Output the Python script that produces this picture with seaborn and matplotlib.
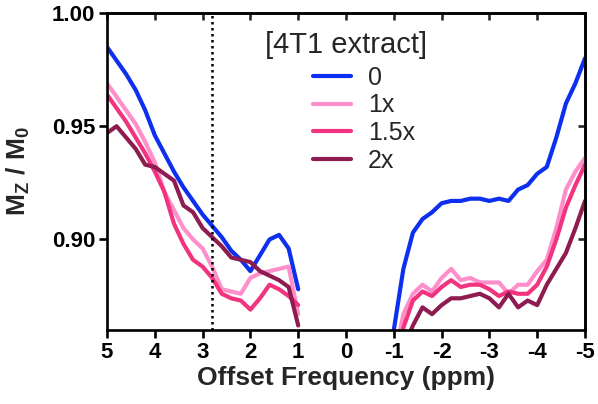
import matplotlib
matplotlib.use('Agg')
import matplotlib.pyplot as plt
import seaborn as sns
import pandas as pd

sns.set_style('ticks')
plt.rcParams['font.family'] = ['Liberation Sans', 'DejaVu Sans']
plt.rcParams['mathtext.fontset'] = 'custom'
plt.rcParams['mathtext.bf'] = 'Liberation Sans:bold'
plt.rcParams['mathtext.rm'] = 'Liberation Sans:bold'
plt.rcParams['mathtext.default'] = 'bf'

# offset frequencies (ppm), downfield and upfield of water
ppm_pos = [5.0, 4.8, 4.6, 4.4, 4.2, 4.0, 3.8, 3.6, 3.4, 3.2, 3.0,
           2.8, 2.6, 2.4, 2.2, 2.0, 1.8, 1.6, 1.4, 1.2, 1.0]
ppm_neg = [-1.0, -1.2, -1.4, -1.6, -1.8, -2.0, -2.2, -2.4, -2.6, -2.8, -3.0,
           -3.2, -3.4, -3.6, -3.8, -4.0, -4.2, -4.4, -4.6, -4.8, -5.0]

# Mz/M0 for each [4T1 extract] level
mz_0_pos = [0.985, 0.979, 0.973, 0.966, 0.957, 0.946, 0.938, 0.930, 0.923, 0.917, 0.911,
            0.906, 0.901, 0.895, 0.891, 0.886, 0.893, 0.900, 0.902, 0.896, 0.878]
mz_0_neg = [0.860, 0.887, 0.903, 0.909, 0.912, 0.916, 0.917, 0.917, 0.918, 0.918, 0.917,
            0.918, 0.917, 0.922, 0.924, 0.929, 0.932, 0.945, 0.960, 0.969, 0.980]

mz_1x_pos = [0.969, 0.963, 0.957, 0.951, 0.943, 0.934, 0.921, 0.913, 0.905, 0.900, 0.896,
             0.888, 0.878, 0.877, 0.876, 0.883, 0.885, 0.886, 0.887, 0.888, 0.867]
mz_1x_neg = [0.846, 0.867, 0.876, 0.880, 0.877, 0.883, 0.887, 0.882, 0.883, 0.881, 0.881,
             0.881, 0.876, 0.880, 0.880, 0.886, 0.891, 0.905, 0.922, 0.930, 0.936]

mz_15x_pos = [0.964, 0.958, 0.952, 0.945, 0.938, 0.930, 0.921, 0.907, 0.898, 0.891, 0.888,
              0.883, 0.876, 0.874, 0.873, 0.869, 0.874, 0.880, 0.878, 0.875, 0.871]
mz_15x_neg = [0.838, 0.861, 0.873, 0.877, 0.875, 0.879, 0.882, 0.879, 0.880, 0.880, 0.878,
              0.875, 0.877, 0.876, 0.876, 0.880, 0.888, 0.900, 0.914, 0.924, 0.933]

mz_2x_pos = [0.947, 0.950, 0.945, 0.940, 0.933, 0.932, 0.929, 0.926, 0.915, 0.912, 0.905,
             0.901, 0.897, 0.892, 0.891, 0.890, 0.886, 0.884, 0.882, 0.879, 0.862]
mz_2x_neg = [0.830, 0.852, 0.862, 0.870, 0.867, 0.871, 0.874, 0.874, 0.875, 0.876, 0.874,
             0.870, 0.876, 0.870, 0.873, 0.871, 0.880, 0.887, 0.894, 0.905, 0.917]

levels = ['0', '1x', '1.5x', '2x']
colors = ['#0d2ff0', '#ff8fcb', '#f2337f', '#8e1c50']
series = {
    '0': (mz_0_pos, mz_0_neg),
    '1x': (mz_1x_pos, mz_1x_neg),
    '1.5x': (mz_15x_pos, mz_15x_neg),
    '2x': (mz_2x_pos, mz_2x_neg),
}

xticks = [5, 4, 3, 2, 1, 0, -1, -2, -3, -4, -5]
xtick_labels = ['5', '4', '3', '2', '1', '0', '-1', '-2', '-3', '-4', '-5']
yticks = [0.90, 0.95, 1.00]
ytick_labels = ['0.90', '0.95', '1.00']

# long-form table, one unit per side so the gap around water stays open
frames = []
for lvl in levels:
    pos, neg = series[lvl]
    frames.append(pd.DataFrame({'ppm': ppm_pos, 'mz': pos, 'extract': lvl, 'side': 'pos'}))
    frames.append(pd.DataFrame({'ppm': ppm_neg, 'mz': neg, 'extract': lvl, 'side': 'neg'}))
df = pd.concat(frames, ignore_index=True)

fig, ax = plt.subplots(figsize=(5.98, 4.04), dpi=100)
fig.subplots_adjust(left=107/598, right=585/598, bottom=74/404, top=391/404)

sns.lineplot(data=df, x='ppm', y='mz', hue='extract', hue_order=levels,
             palette=colors, units='side', estimator=None, linewidth=3,
             ax=ax)

ax.axvline(2.8, color='black', linestyle=(0, (1, 1.4)), linewidth=1.8, zorder=3)

ax.set_xlim(5, -5)
ax.set_ylim(0.86, 1.00)
ax.set_xticks(xticks)
ax.set_xticklabels(xtick_labels)
ax.set_yticks(yticks)
ax.set_yticklabels(ytick_labels)

lw = 1.9
for s in ax.spines.values():
    s.set_linewidth(lw)
    s.set_color('black')
    s.set_visible(True)
ax.tick_params(length=5.5, width=lw, colors='black', labelsize=16, pad=3)
for t in ax.get_xticklabels() + ax.get_yticklabels():
    t.set_fontweight('bold')

# mirrored ticks pointing inward on top and right
top = ax.secondary_xaxis('top')
top.set_xticks(xticks)
top.tick_params(direction='in', length=5, width=lw, labeltop=False)
top.spines['top'].set_linewidth(lw)
right = ax.secondary_yaxis('right')
right.set_yticks(yticks)
right.tick_params(direction='in', length=5, width=lw, labelright=False)
right.spines['right'].set_linewidth(lw)

ax.set_xlabel('Offset Frequency (ppm)', fontsize=19, fontweight='bold', labelpad=2)
ax.set_ylabel(r'M$_\mathbf{Z}$ / M$_\mathbf{0}$', fontsize=19, fontweight='bold')
ax.yaxis.set_label_coords(-0.157, 0.5)

handles, labels = ax.get_legend_handles_labels()
ax.legend(handles, labels, frameon=False, fontsize=18, loc='upper left',
          bbox_to_anchor=(0.431, 0.834), borderpad=0, borderaxespad=0,
          handlelength=1.52, handletextpad=0.68, labelspacing=0.15)
ax.text(0.331, 0.899, '[4T1 extract]', transform=ax.transAxes,
        ha='left', va='center', fontsize=21)

plt.savefig('out.png', dpi=100)
